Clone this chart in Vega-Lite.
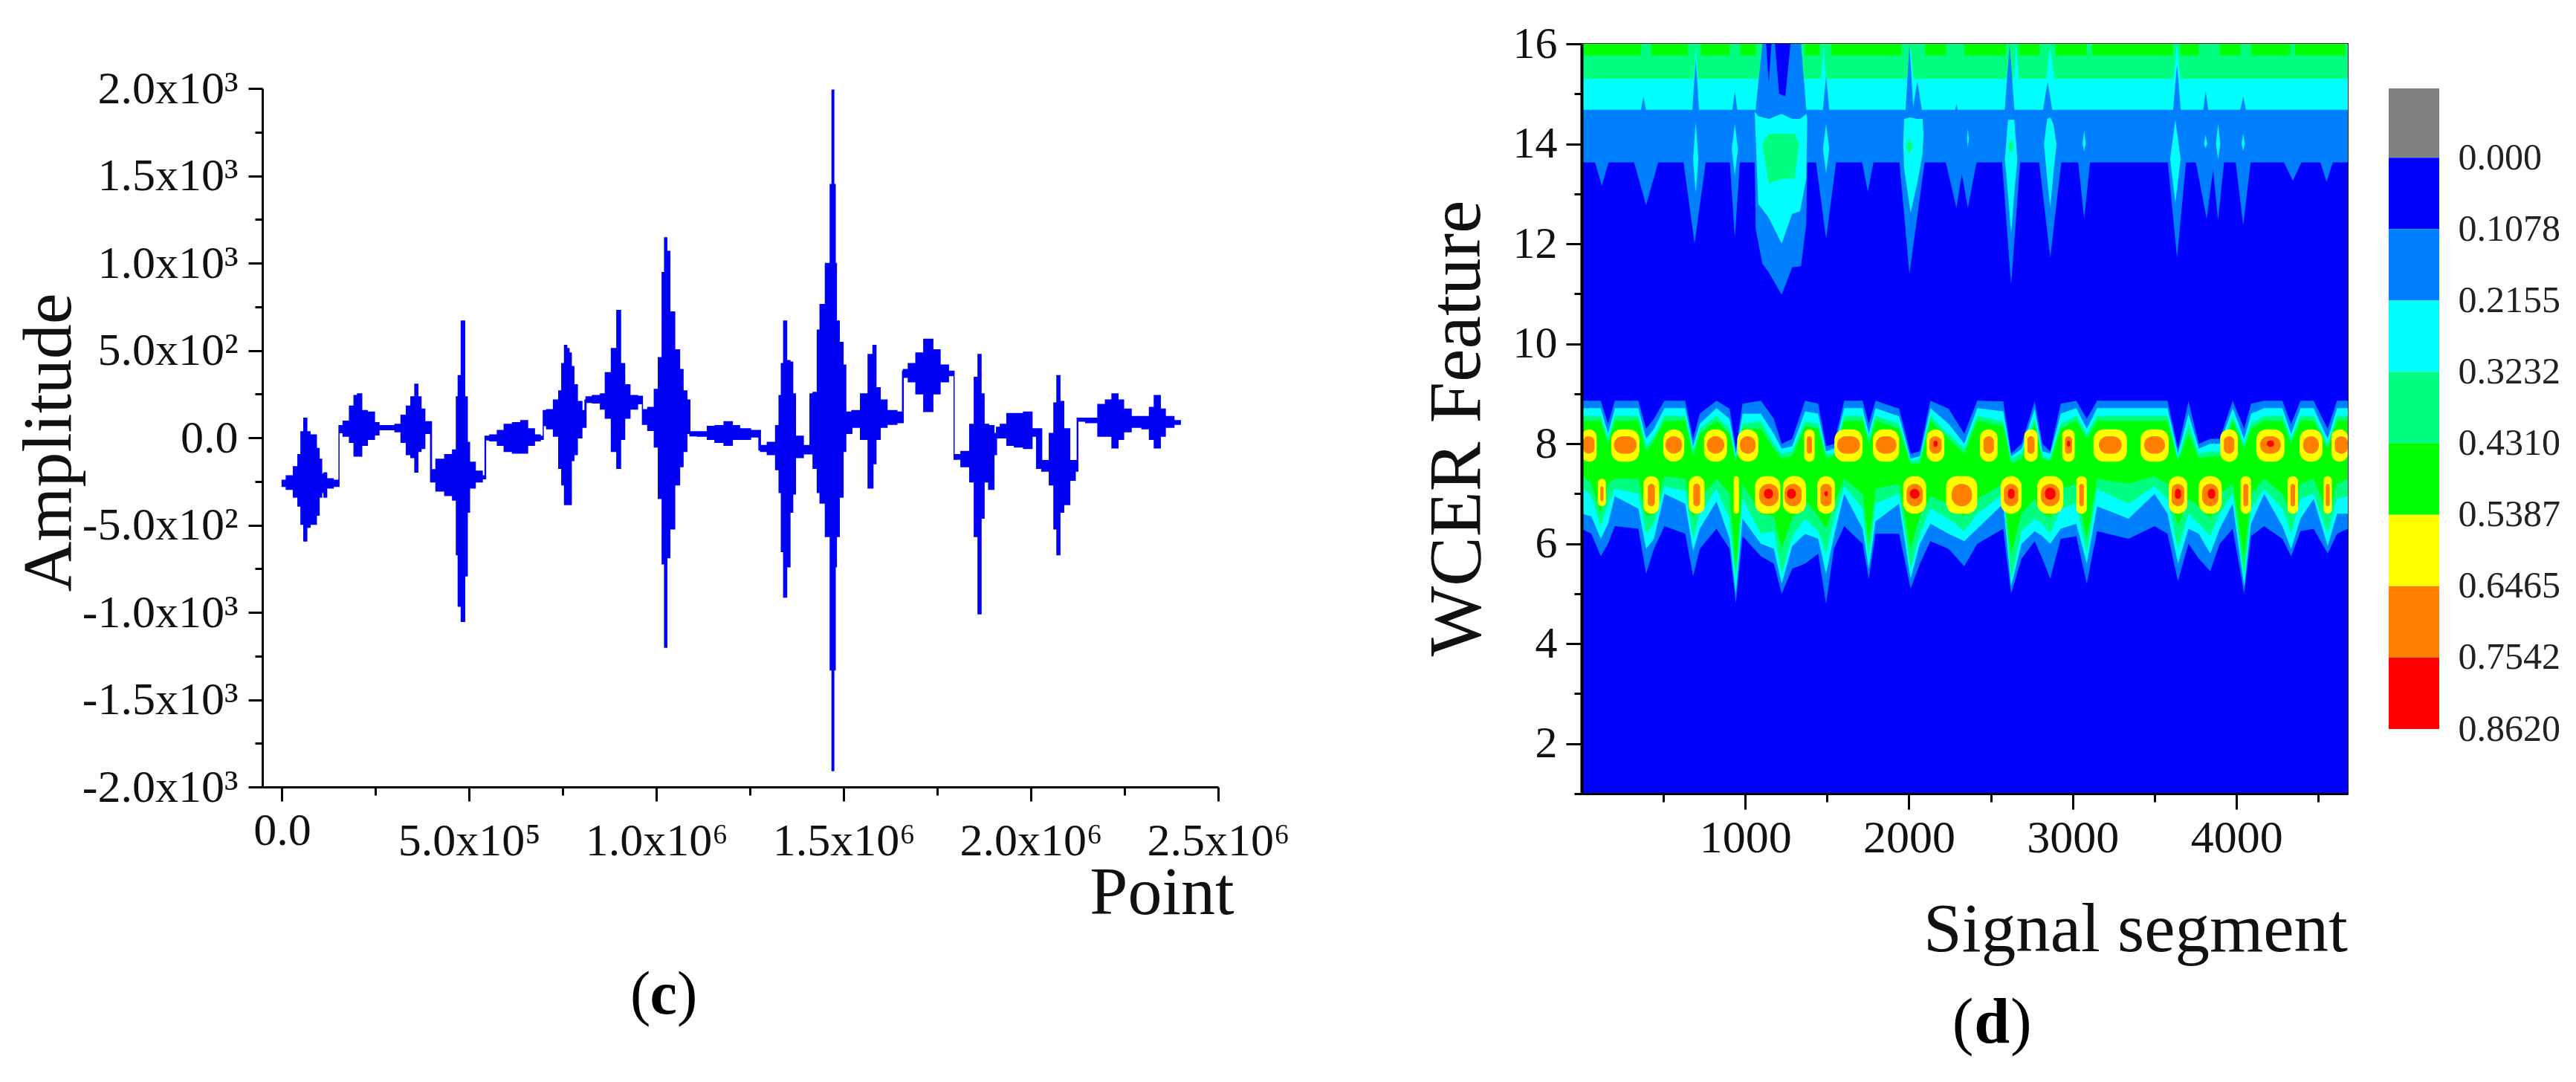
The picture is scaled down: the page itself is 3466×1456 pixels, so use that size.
{"$schema":"https://vega.github.io/schema/vega-lite/v6.json","autosize":"none","background":"white","padding":{"left":353,"top":59,"right":3113,"bottom":1397},"config":{"view":{"stroke":null},"font":"Liberation Serif","axis":{"grid":false,"labelLimit":0,"labelFont":"Liberation Serif","titleFont":"Liberation Serif","titleFontWeight":"normal","labelColor":"#111","titleColor":"#111","tickColor":"#000","domainColor":"#000","labelOverlap":false,"labelBound":false,"labelFlush":false}},
"datasets":{
"sig":[{"x":180,"hi":-244,"lo":-279},{"x":22050,"hi":-218,"lo":-296},{"x":38250,"hi":-166,"lo":-340},{"x":46350,"hi":-97,"lo":-392},{"x":54450,"hi":34,"lo":-496},{"x":61740,"hi":112,"lo":-592},{"x":70650,"hi":34,"lo":-513},{"x":78750,"hi":16,"lo":-496},{"x":88470,"hi":16,"lo":-496},{"x":94950,"hi":-62,"lo":-444},{"x":103050,"hi":-123,"lo":-340},{"x":108720,"hi":-209,"lo":-314},{"x":115200,"hi":-201,"lo":-340},{"x":123300,"hi":-235,"lo":-288},{"x":150030,"hi":-244,"lo":-279},{"x":154100,"hi":69,"lo":29},{"x":171900,"hi":95,"lo":8},{"x":188100,"hi":181,"lo":-27},{"x":196200,"hi":242,"lo":-105},{"x":206730,"hi":251,"lo":-105},{"x":218880,"hi":155,"lo":-44},{"x":236700,"hi":147,"lo":-10},{"x":256950,"hi":86,"lo":16},{"x":261000,"hi":69,"lo":46},{"x":293400,"hi":69,"lo":46},{"x":309600,"hi":77,"lo":34},{"x":325800,"hi":129,"lo":-27},{"x":337950,"hi":181,"lo":-97},{"x":350100,"hi":234,"lo":-114},{"x":359010,"hi":306,"lo":-197},{"x":366300,"hi":234,"lo":-79},{"x":376020,"hi":164,"lo":-62},{"x":386550,"hi":91,"lo":25},{"x":395460,"hi":91,"lo":25},{"x":397890,"hi":91,"lo":-253},{"x":400320,"hi":-183,"lo":-253},{"x":421380,"hi":-123,"lo":-305},{"x":447300,"hi":-97,"lo":-331},{"x":463500,"hi":-70,"lo":-357},{"x":467550,"hi":234,"lo":-670},{"x":473220,"hi":355,"lo":-965},{"x":483750,"hi":668,"lo":-1052},{"x":491850,"hi":234,"lo":-791},{"x":497520,"hi":-27,"lo":-427},{"x":504000,"hi":-140,"lo":-288},{"x":528300,"hi":-192,"lo":-253},{"x":541260,"hi":-218,"lo":-235},{"x":542880,"hi":8,"lo":-235},{"x":544500,"hi":8,"lo":-13},{"x":564750,"hi":16,"lo":-18},{"x":585000,"hi":42,"lo":-44},{"x":601200,"hi":77,"lo":-79},{"x":629550,"hi":86,"lo":-88},{"x":645750,"hi":98,"lo":-88},{"x":666000,"hi":51,"lo":-44},{"x":682200,"hi":16,"lo":-18},{"x":696780,"hi":8,"lo":-10},{"x":698400,"hi":155,"lo":69},{"x":714600,"hi":161,"lo":51},{"x":734850,"hi":216,"lo":8},{"x":742950,"hi":268,"lo":-175},{"x":751050,"hi":425,"lo":-270},{"x":757530,"hi":529,"lo":-383},{"x":763200,"hi":511,"lo":-383},{"x":769680,"hi":485,"lo":-383},{"x":775350,"hi":407,"lo":-131},{"x":783450,"hi":303,"lo":-97},{"x":793980,"hi":207,"lo":-1},{"x":807750,"hi":155,"lo":60},{"x":810180,"hi":216,"lo":60},{"x":813420,"hi":234,"lo":202},{"x":844200,"hi":242,"lo":199},{"x":856350,"hi":251,"lo":164},{"x":870120,"hi":372,"lo":112},{"x":888750,"hi":511,"lo":-79},{"x":899280,"hi":729,"lo":-175},{"x":909000,"hi":425,"lo":-10},{"x":921150,"hi":303,"lo":112},{"x":937350,"hi":242,"lo":164},{"x":961650,"hi":237,"lo":195},{"x":963270,"hi":161,"lo":77},{"x":990000,"hi":173,"lo":42},{"x":998100,"hi":277,"lo":-53},{"x":1011870,"hi":459,"lo":-348},{"x":1018350,"hi":946,"lo":-722},{"x":1024830,"hi":1145,"lo":-1200},{"x":1030500,"hi":1067,"lo":-687},{"x":1041030,"hi":720,"lo":-522},{"x":1056420,"hi":503,"lo":-270},{"x":1066950,"hi":390,"lo":-166},{"x":1075050,"hi":268,"lo":-79},{"x":1087200,"hi":216,"lo":25},{"x":1091250,"hi":34,"lo":11},{"x":1127700,"hi":34,"lo":8},{"x":1143900,"hi":65,"lo":-10},{"x":1168200,"hi":69,"lo":-27},{"x":1192500,"hi":91,"lo":-44},{"x":1212750,"hi":69,"lo":-10},{"x":1231000,"hi":51,"lo":-10},{"x":1271500,"hi":42,"lo":4},{"x":1275550,"hi":42,"lo":-70},{"x":1279600,"hi":-45,"lo":-79},{"x":1312000,"hi":-27,"lo":-97},{"x":1324150,"hi":69,"lo":-183},{"x":1330630,"hi":242,"lo":-314},{"x":1336300,"hi":425,"lo":-652},{"x":1342780,"hi":668,"lo":-913},{"x":1352500,"hi":442,"lo":-739},{"x":1360600,"hi":433,"lo":-427},{"x":1367080,"hi":251,"lo":-322},{"x":1375180,"hi":8,"lo":-114},{"x":1409200,"hi":-45,"lo":-93},{"x":1410820,"hi":251,"lo":-93},{"x":1425400,"hi":260,"lo":-175},{"x":1433500,"hi":616,"lo":-314},{"x":1440000,"hi":763,"lo":-374},{"x":1461850,"hi":998,"lo":-566},{"x":1465900,"hi":1450,"lo":-1330},{"x":1471570,"hi":1990,"lo":-1906},{"x":1475620,"hi":1450,"lo":-1330},{"x":1479000,"hi":998,"lo":-739},{"x":1482100,"hi":668,"lo":-566},{"x":1494250,"hi":546,"lo":-340},{"x":1502350,"hi":416,"lo":-79},{"x":1508830,"hi":147,"lo":25},{"x":1534750,"hi":155,"lo":60},{"x":1555000,"hi":251,"lo":-10},{"x":1575250,"hi":477,"lo":-288},{"x":1580920,"hi":529,"lo":-149},{"x":1591450,"hi":286,"lo":-10},{"x":1603600,"hi":216,"lo":60},{"x":1627900,"hi":155,"lo":77},{"x":1656250,"hi":147,"lo":86},{"x":1657870,"hi":381,"lo":86},{"x":1660300,"hi":390,"lo":346},{"x":1684600,"hi":425,"lo":320},{"x":1700800,"hi":485,"lo":251},{"x":1726720,"hi":564,"lo":150},{"x":1749400,"hi":503,"lo":251},{"x":1765600,"hi":416,"lo":320},{"x":1793950,"hi":381,"lo":355},{"x":1795570,"hi":-97,"lo":-123},{"x":1830400,"hi":-79,"lo":-166},{"x":1842550,"hi":77,"lo":-253},{"x":1854700,"hi":346,"lo":-566},{"x":1862800,"hi":477,"lo":-1008},{"x":1870900,"hi":251,"lo":-461},{"x":1879000,"hi":77,"lo":-253},{"x":1895200,"hi":69,"lo":-296},{"x":1907350,"hi":25,"lo":-97},{"x":1908970,"hi":60,"lo":-1},{"x":1927600,"hi":77,"lo":-1},{"x":1943800,"hi":138,"lo":-44},{"x":1968100,"hi":138,"lo":-53},{"x":1992400,"hi":147,"lo":-62},{"x":2013460,"hi":51,"lo":8},{"x":2016700,"hi":51,"lo":-175},{"x":2041000,"hi":-131,"lo":-192},{"x":2057200,"hi":25,"lo":-270},{"x":2065300,"hi":199,"lo":-522},{"x":2073400,"hi":355,"lo":-670},{"x":2081500,"hi":207,"lo":-427},{"x":2093650,"hi":51,"lo":-383},{"x":2113900,"hi":-131,"lo":-244},{"x":2122810,"hi":-131,"lo":-192},{"x":2124430,"hi":112,"lo":-192},{"x":2126050,"hi":112,"lo":95},{"x":2166550,"hi":112,"lo":86},{"x":2190850,"hi":190,"lo":8},{"x":2207050,"hi":216,"lo":8},{"x":2225680,"hi":251,"lo":-58},{"x":2239450,"hi":216,"lo":-10},{"x":2255650,"hi":164,"lo":34},{"x":2279950,"hi":121,"lo":60},{"x":2312350,"hi":121,"lo":51},{"x":2320450,"hi":173,"lo":-10},{"x":2338270,"hi":242,"lo":-58},{"x":2352850,"hi":164,"lo":8},{"x":2365000,"hi":121,"lo":60},{"x":2399020,"hi":98,"lo":77}],
"cells":[{"a":1,"z":4680,"y":1,"v":16,"b":"0.000"},{"a":1,"z":4680,"y":13.63,"v":16,"b":"0.1078"},{"a":1,"z":4680,"y":14.68,"v":16,"b":"0.2155"},{"a":1,"z":4680,"y":15.3,"v":16,"b":"0.3232"},{"a":13,"z":364,"y":15.77,"v":16,"b":"0.4310"},{"a":427,"z":650,"y":15.77,"v":16,"b":"0.4310"},{"a":730,"z":905,"y":15.77,"v":16,"b":"0.4310"},{"a":969,"z":1064,"y":15.77,"v":16,"b":"0.4310"},{"a":1366,"z":1456,"y":15.77,"v":16,"b":"0.4310"},{"a":1526,"z":1956,"y":15.77,"v":16,"b":"0.4310"},{"a":2099,"z":2226,"y":15.77,"v":16,"b":"0.4310"},{"a":2338,"z":2592,"y":15.77,"v":16,"b":"0.4310"},{"a":2672,"z":2799,"y":15.77,"v":16,"b":"0.4310"},{"a":2895,"z":3086,"y":15.77,"v":16,"b":"0.4310"},{"a":3118,"z":3611,"y":15.77,"v":16,"b":"0.4310"},{"a":3659,"z":3770,"y":15.77,"v":16,"b":"0.4310"},{"a":3898,"z":4025,"y":15.77,"v":16,"b":"0.4310"},{"a":4089,"z":4328,"y":15.77,"v":16,"b":"0.4310"},{"a":4359,"z":4662,"y":15.77,"v":16,"b":"0.4310"}],
"spikes":[
{"g":"a1","b":"0.1078","x":77,"y":13.7,"v":13.7},{"g":"a1","b":"0.1078","x":125,"y":13.7,"v":13.16},{"g":"a1","b":"0.1078","x":172,"y":13.7,"v":13.7},
{"g":"a2","b":"0.1078","x":316,"y":13.7,"v":13.7},{"g":"a2","b":"0.1078","x":395,"y":13.7,"v":12.77},{"g":"a2","b":"0.1078","x":475,"y":13.7,"v":13.7},
{"g":"a3","b":"0.1078","x":621,"y":13.7,"v":13.7},{"g":"a3","b":"0.1078","x":691,"y":13.7,"v":12.0},{"g":"a3","b":"0.1078","x":762,"y":13.7,"v":13.7},
{"g":"a4","b":"0.1078","x":905,"y":13.7,"v":13.7},{"g":"a4","b":"0.1078","x":937,"y":13.7,"v":12.12},{"g":"a4","b":"0.1078","x":969,"y":13.7,"v":13.7},
{"g":"a5","b":"0.1078","x":1430,"y":13.7,"v":13.7},{"g":"a5","b":"0.1078","x":1494,"y":13.7,"v":12.1},{"g":"a5","b":"0.1078","x":1558,"y":13.7,"v":13.7},
{"g":"a6","b":"0.1078","x":1710,"y":13.7,"v":13.7},{"g":"a6","b":"0.1078","x":1749,"y":13.7,"v":13.04},{"g":"a6","b":"0.1078","x":1787,"y":13.7,"v":13.7},
{"g":"a7","b":"0.1078","x":1940,"y":13.7,"v":13.7},{"g":"a7","b":"0.1078","x":2003,"y":13.7,"v":11.4},{"g":"a7","b":"0.1078","x":2099,"y":13.7,"v":13.7},
{"g":"a8","b":"0.1078","x":2220,"y":13.7,"v":13.7},{"g":"a8","b":"0.1078","x":2290,"y":13.7,"v":12.72},{"g":"a8","b":"0.1078","x":2338,"y":13.7,"v":13.7},
{"g":"a9","b":"0.1078","x":2306,"y":13.7,"v":13.7},{"g":"a9","b":"0.1078","x":2360,"y":13.7,"v":12.72},{"g":"a9","b":"0.1078","x":2417,"y":13.7,"v":13.7},
{"g":"a10","b":"0.1078","x":2567,"y":13.7,"v":13.7},{"g":"a10","b":"0.1078","x":2624,"y":13.7,"v":11.18},{"g":"a10","b":"0.1078","x":2681,"y":13.7,"v":13.7},
{"g":"a11","b":"0.1078","x":2793,"y":13.7,"v":13.7},{"g":"a11","b":"0.1078","x":2863,"y":13.7,"v":11.72},{"g":"a11","b":"0.1078","x":2933,"y":13.7,"v":13.7},
{"g":"a12","b":"0.1078","x":3032,"y":13.7,"v":13.7},{"g":"a12","b":"0.1078","x":3070,"y":13.7,"v":12.5},{"g":"a12","b":"0.1078","x":3108,"y":13.7,"v":13.7},
{"g":"a13","b":"0.1078","x":3579,"y":13.7,"v":13.7},{"g":"a13","b":"0.1078","x":3637,"y":13.7,"v":11.72},{"g":"a13","b":"0.1078","x":3694,"y":13.7,"v":13.7},
{"g":"a14","b":"0.1078","x":3748,"y":13.7,"v":13.7},{"g":"a14","b":"0.1078","x":3818,"y":13.7,"v":12.5},{"g":"a14","b":"0.1078","x":3866,"y":13.7,"v":13.7},
{"g":"a15","b":"0.1078","x":3850,"y":13.7,"v":13.7},{"g":"a15","b":"0.1078","x":3888,"y":13.7,"v":12.47},{"g":"a15","b":"0.1078","x":3926,"y":13.7,"v":13.7},
{"g":"a16","b":"0.1078","x":3993,"y":13.7,"v":13.7},{"g":"a16","b":"0.1078","x":4041,"y":13.7,"v":12.37},{"g":"a16","b":"0.1078","x":4089,"y":13.7,"v":13.7},
{"g":"a17","b":"0.1078","x":4280,"y":13.7,"v":13.7},{"g":"a17","b":"0.1078","x":4344,"y":13.7,"v":13.26},{"g":"a17","b":"0.1078","x":4407,"y":13.7,"v":13.7},
{"g":"a18","b":"0.1078","x":4506,"y":13.7,"v":13.7},{"g":"a18","b":"0.1078","x":4550,"y":13.7,"v":13.24},{"g":"a18","b":"0.1078","x":4595,"y":13.7,"v":13.7},
{"g":"c1","b":"0.2155","x":685,"y":15.25,"v":15.25},{"g":"c1","b":"0.2155","x":698,"y":15.25,"v":15.94},{"g":"c1","b":"0.2155","x":711,"y":15.25,"v":15.25},
{"g":"c2","b":"0.2155","x":1462,"y":15.25,"v":15.25},{"g":"c2","b":"0.2155","x":1478,"y":15.25,"v":15.94},{"g":"c2","b":"0.2155","x":1494,"y":15.25,"v":15.25},
{"g":"c3","b":"0.2155","x":1991,"y":15.25,"v":15.25},{"g":"c3","b":"0.2155","x":2010,"y":15.25,"v":15.94},{"g":"c3","b":"0.2155","x":2029,"y":15.25,"v":15.25},
{"g":"c4","b":"0.2155","x":2838,"y":15.25,"v":15.25},{"g":"c4","b":"0.2155","x":2863,"y":15.25,"v":16},{"g":"c4","b":"0.2155","x":2888,"y":15.25,"v":15.25},
{"g":"c5","b":"0.2155","x":3614,"y":15.25,"v":15.25},{"g":"c5","b":"0.2155","x":3637,"y":15.25,"v":16},{"g":"c5","b":"0.2155","x":3659,"y":15.25,"v":15.25},
{"g":"u1","b":"0.1078","x":360,"y":14.6,"v":14.6},{"g":"u1","b":"0.1078","x":379,"y":14.6,"v":14.95},{"g":"u1","b":"0.1078","x":399,"y":14.6,"v":14.6},
{"g":"u2","b":"0.1078","x":676,"y":14.6,"v":14.6},{"g":"u2","b":"0.1078","x":698,"y":14.6,"v":15.69},{"g":"u2","b":"0.1078","x":720,"y":14.6,"v":14.6},
{"g":"u3","b":"0.1078","x":918,"y":14.6,"v":14.6},{"g":"u3","b":"0.1078","x":937,"y":14.6,"v":15.05},{"g":"u3","b":"0.1078","x":956,"y":14.6,"v":14.6},
{"g":"u4","b":"0.1078","x":1472,"y":14.6,"v":14.6},{"g":"u4","b":"0.1078","x":1494,"y":14.6,"v":15.35},{"g":"u4","b":"0.1078","x":1516,"y":14.6,"v":14.6},
{"g":"u5","b":"0.1078","x":1978,"y":14.6,"v":14.6},{"g":"u5","b":"0.1078","x":2003,"y":14.6,"v":16},{"g":"u5","b":"0.1078","x":2029,"y":14.6,"v":14.6},
{"g":"u6","b":"0.1078","x":2019,"y":14.6,"v":14.6},{"g":"u6","b":"0.1078","x":2051,"y":14.6,"v":15.25},{"g":"u6","b":"0.1078","x":2083,"y":14.6,"v":14.6},
{"g":"u7","b":"0.1078","x":2277,"y":14.6,"v":14.6},{"g":"u7","b":"0.1078","x":2290,"y":14.6,"v":14.8},{"g":"u7","b":"0.1078","x":2303,"y":14.6,"v":14.6},
{"g":"u8","b":"0.1078","x":2583,"y":14.6,"v":14.6},{"g":"u8","b":"0.1078","x":2615,"y":14.6,"v":16},{"g":"u8","b":"0.1078","x":2646,"y":14.6,"v":14.6},
{"g":"u9","b":"0.1078","x":2815,"y":14.6,"v":14.6},{"g":"u9","b":"0.1078","x":2847,"y":14.6,"v":15.25},{"g":"u9","b":"0.1078","x":2879,"y":14.6,"v":14.6},
{"g":"u10","b":"0.1078","x":3611,"y":14.6,"v":14.6},{"g":"u10","b":"0.1078","x":3637,"y":14.6,"v":15.59},{"g":"u10","b":"0.1078","x":3662,"y":14.6,"v":14.6},
{"g":"u11","b":"0.1078","x":3793,"y":14.6,"v":14.6},{"g":"u11","b":"0.1078","x":3812,"y":14.6,"v":15.05},{"g":"u11","b":"0.1078","x":3831,"y":14.6,"v":14.6},
{"g":"u12","b":"0.1078","x":4019,"y":14.6,"v":14.6},{"g":"u12","b":"0.1078","x":4041,"y":14.6,"v":14.95},{"g":"u12","b":"0.1078","x":4063,"y":14.6,"v":14.6},
{"g":"c6","b":"0.2155","x":2640,"y":15.25,"v":15.25},{"g":"c6","b":"0.2155","x":2656,"y":15.25,"v":16},{"g":"c6","b":"0.2155","x":2672,"y":15.25,"v":15.25},
{"g":"big","b":"0.1078","x":1058,"y":13.7,"v":13.7},{"g":"big","b":"0.1078","x":1064,"y":14.7,"v":12.3},{"g":"big","b":"0.1078","x":1105,"y":16,"v":11.6},{"g":"big","b":"0.1078","x":1144,"y":16,"v":11.43},{"g":"big","b":"0.1078","x":1223,"y":16,"v":10.98},{"g":"big","b":"0.1078","x":1287,"y":16,"v":11.53},{"g":"big","b":"0.1078","x":1341,"y":16,"v":11.55},{"g":"big","b":"0.1078","x":1373,"y":14.7,"v":12.4},{"g":"big","b":"0.1078","x":1379,"y":13.7,"v":13.7},
{"g":"bl1","b":"0.000","x":1182,"y":16,"v":16},{"g":"bl1","b":"0.000","x":1207,"y":16,"v":15},{"g":"bl1","b":"0.000","x":1245,"y":16,"v":14.95},{"g":"bl1","b":"0.000","x":1277,"y":16,"v":16},
{"g":"bl2","b":"0.000","x":1128,"y":16,"v":16},{"g":"bl2","b":"0.000","x":1144,"y":16,"v":15.2},{"g":"bl2","b":"0.000","x":1160,"y":16,"v":16},
{"g":"bc","b":"0.2155","x":1058,"y":14.65,"v":14.65},{"g":"bc","b":"0.2155","x":1080,"y":14.55,"v":12.8},{"g":"bc","b":"0.2155","x":1144,"y":14.5,"v":12.52},{"g":"bc","b":"0.2155","x":1223,"y":14.6,"v":12.0},{"g":"bc","b":"0.2155","x":1287,"y":14.5,"v":12.6},{"g":"bc","b":"0.2155","x":1335,"y":14.5,"v":12.65},{"g":"bc","b":"0.2155","x":1373,"y":14.6,"v":13.3},{"g":"bc","b":"0.2155","x":1379,"y":14.5,"v":14.5},
{"g":"bs","b":"0.3232","x":1105,"y":14,"v":14},{"g":"bs","b":"0.3232","x":1144,"y":14.2,"v":13.2},{"g":"bs","b":"0.3232","x":1223,"y":14.2,"v":13.3},{"g":"bs","b":"0.3232","x":1303,"y":14.2,"v":13.3},{"g":"bs","b":"0.3232","x":1328,"y":14,"v":14},
{"g":"d1","b":"0.2155","x":682,"y":13.7,"v":13.7},{"g":"d1","b":"0.2155","x":698,"y":14.45,"v":13.01},{"g":"d1","b":"0.2155","x":714,"y":13.7,"v":13.7},
{"g":"d2","b":"0.2155","x":918,"y":13.9,"v":13.9},{"g":"d2","b":"0.2155","x":937,"y":14.4,"v":13.36},{"g":"d2","b":"0.2155","x":956,"y":13.9,"v":13.9},
{"g":"d3","b":"0.2155","x":1475,"y":13.9,"v":13.9},{"g":"d3","b":"0.2155","x":1494,"y":14.4,"v":13.41},{"g":"d3","b":"0.2155","x":1513,"y":13.9,"v":13.9},
{"g":"d4","b":"0.2155","x":1965,"y":14,"v":14},{"g":"d4","b":"0.2155","x":1971,"y":14.5,"v":13.5},{"g":"d4","b":"0.2155","x":2010,"y":14.53,"v":12.62},{"g":"d4","b":"0.2155","x":2050,"y":14.5,"v":13.2},{"g":"d4","b":"0.2155","x":2083,"y":14.5,"v":13.8},{"g":"d4","b":"0.2155","x":2089,"y":14.2,"v":14.2},
{"g":"d5","b":"0.2155","x":2354,"y":14.1,"v":14.1},{"g":"d5","b":"0.2155","x":2360,"y":14.3,"v":13.91},{"g":"d5","b":"0.2155","x":2366,"y":14.1,"v":14.1},
{"g":"d6","b":"0.2155","x":2586,"y":13.7,"v":13.7},{"g":"d6","b":"0.2155","x":2605,"y":14.48,"v":13.0},{"g":"d6","b":"0.2155","x":2624,"y":14.48,"v":12.2},{"g":"d6","b":"0.2155","x":2643,"y":14.48,"v":13.0},{"g":"d6","b":"0.2155","x":2662,"y":13.7,"v":13.7},
{"g":"d7","b":"0.2155","x":2825,"y":14,"v":14},{"g":"d7","b":"0.2155","x":2844,"y":14.5,"v":13.3},{"g":"d7","b":"0.2155","x":2863,"y":14.53,"v":12.72},{"g":"d7","b":"0.2155","x":2882,"y":14.4,"v":13.4},{"g":"d7","b":"0.2155","x":2901,"y":14,"v":14},
{"g":"d8","b":"0.2155","x":3060,"y":14,"v":14},{"g":"d8","b":"0.2155","x":3070,"y":14.25,"v":13.86},{"g":"d8","b":"0.2155","x":3080,"y":14,"v":14},
{"g":"d9","b":"0.2155","x":3595,"y":13.7,"v":13.7},{"g":"d9","b":"0.2155","x":3627,"y":14.48,"v":12.82},{"g":"d9","b":"0.2155","x":3659,"y":13.7,"v":13.7},
{"g":"d10","b":"0.2155","x":3802,"y":14,"v":14},{"g":"d10","b":"0.2155","x":3812,"y":14.18,"v":13.91},{"g":"d10","b":"0.2155","x":3821,"y":14,"v":14},
{"g":"d11","b":"0.2155","x":3875,"y":14,"v":14},{"g":"d11","b":"0.2155","x":3888,"y":14.4,"v":13.68},{"g":"d11","b":"0.2155","x":3901,"y":14,"v":14},
{"g":"d12","b":"0.2155","x":4031,"y":14,"v":14},{"g":"d12","b":"0.2155","x":4041,"y":14.2,"v":13.86},{"g":"d12","b":"0.2155","x":4051,"y":14,"v":14},
{"g":"s1","b":"0.3232","x":1981,"y":13.95,"v":13.95},{"g":"s1","b":"0.3232","x":2003,"y":14.1,"v":13.8},{"g":"s1","b":"0.3232","x":2026,"y":13.95,"v":13.95},
{"g":"s2","b":"0.3232","x":2608,"y":13.95,"v":13.95},{"g":"s2","b":"0.3232","x":2624,"y":14.1,"v":13.8},{"g":"s2","b":"0.3232","x":2640,"y":13.95,"v":13.95}],
"mid":[
{"x":1,"At":8.86,"Bt":8.71,"Ct":8.56,"Dt":8.46,"Db":7.39,"Cb":7.15,"Bb":6.6,"Ab":6.3},
{"x":61,"At":8.86,"Bt":8.71,"Ct":8.56,"Dt":8.46,"Db":7.2,"Cb":6.95,"Bb":6.55,"Ab":6.2},
{"x":118,"At":8.86,"Bt":8.71,"Ct":8.56,"Dt":8.46,"Db":6.6,"Cb":6.35,"Bb":6.1,"Ab":5.75},
{"x":163,"At":8.4,"Bt":8.2,"Ct":8.1,"Dt":8.0,"Db":7.2,"Cb":6.8,"Bb":6.4,"Ab":6.0},
{"x":204,"At":8.86,"Bt":8.71,"Ct":8.56,"Dt":8.46,"Db":7.3,"Cb":7.1,"Bb":6.95,"Ab":6.35},
{"x":348,"At":8.86,"Bt":8.71,"Ct":8.56,"Dt":8.46,"Db":7.3,"Cb":7.0,"Bb":6.7,"Ab":6.3},
{"x":395,"At":8.3,"Bt":8.1,"Ct":7.95,"Dt":7.85,"Db":6.55,"Cb":6.2,"Bb":5.9,"Ab":5.4},
{"x":443,"At":8.5,"Bt":8.3,"Ct":8.15,"Dt":8.05,"Db":6.6,"Cb":6.4,"Bb":6.1,"Ab":5.9},
{"x":507,"At":8.86,"Bt":8.71,"Ct":8.56,"Dt":8.46,"Db":7.35,"Cb":7.15,"Bb":7.0,"Ab":6.35},
{"x":634,"At":8.86,"Bt":8.71,"Ct":8.56,"Dt":8.46,"Db":7.3,"Cb":7.05,"Bb":6.8,"Ab":6.2},
{"x":682,"At":8.1,"Bt":7.95,"Ct":7.85,"Dt":7.75,"Db":6.5,"Cb":6.1,"Bb":5.85,"Ab":5.35},
{"x":723,"At":8.6,"Bt":8.4,"Ct":8.3,"Dt":8.2,"Db":6.9,"Cb":6.6,"Bb":6.3,"Ab":5.9},
{"x":825,"At":8.86,"Bt":8.71,"Ct":8.56,"Dt":8.46,"Db":7.3,"Cb":7.1,"Bb":6.85,"Ab":6.3},
{"x":905,"At":8.7,"Bt":8.5,"Ct":8.3,"Dt":8.2,"Db":7.0,"Cb":6.5,"Bb":6.1,"Ab":5.9},
{"x":943,"At":7.9,"Bt":7.8,"Ct":7.7,"Dt":7.65,"Db":5.5,"Cb":5.2,"Bb":5.0,"Ab":4.81},
{"x":984,"At":8.8,"Bt":8.6,"Ct":8.4,"Dt":8.3,"Db":7.2,"Cb":6.9,"Bb":6.5,"Ab":6.15},
{"x":1096,"At":8.86,"Bt":8.6,"Ct":8.45,"Dt":8.3,"Db":6.6,"Cb":6.2,"Bb":6.0,"Ab":5.75},
{"x":1175,"At":8.5,"Bt":8.2,"Ct":8.0,"Dt":7.9,"Db":6.55,"Cb":6.25,"Bb":5.9,"Ab":5.6},
{"x":1223,"At":8.0,"Bt":7.9,"Ct":7.8,"Dt":7.7,"Db":5.9,"Cb":5.4,"Bb":5.2,"Ab":5.0},
{"x":1287,"At":8.1,"Bt":7.95,"Ct":7.85,"Dt":7.75,"Db":6.5,"Cb":6.15,"Bb":5.95,"Ab":5.5},
{"x":1366,"At":8.86,"Bt":8.65,"Ct":8.45,"Dt":8.35,"Db":6.9,"Cb":6.5,"Bb":6.2,"Ab":5.6},
{"x":1446,"At":8.8,"Bt":8.6,"Ct":8.4,"Dt":8.3,"Db":6.55,"Cb":6.25,"Bb":6.1,"Ab":5.8},
{"x":1494,"At":7.95,"Bt":7.85,"Ct":7.8,"Dt":7.7,"Db":6.3,"Cb":5.8,"Bb":5.4,"Ab":4.8},
{"x":1542,"At":8.0,"Bt":7.9,"Ct":7.8,"Dt":7.75,"Db":6.8,"Cb":6.5,"Bb":6.15,"Ab":5.9},
{"x":1605,"At":8.86,"Bt":8.71,"Ct":8.56,"Dt":8.46,"Db":7.3,"Cb":7.15,"Bb":7.0,"Ab":6.35},
{"x":1717,"At":8.86,"Bt":8.71,"Ct":8.56,"Dt":8.46,"Db":7.0,"Cb":6.7,"Bb":6.3,"Ab":6.0},
{"x":1755,"At":8.4,"Bt":8.2,"Ct":8.1,"Dt":8.0,"Db":6.0,"Cb":5.7,"Bb":5.5,"Ab":5.3},
{"x":1796,"At":8.86,"Bt":8.71,"Ct":8.56,"Dt":8.46,"Db":7.1,"Cb":6.8,"Bb":6.45,"Ab":6.2},
{"x":1940,"At":8.7,"Bt":8.55,"Ct":8.4,"Dt":8.3,"Db":7.2,"Cb":7.0,"Bb":6.8,"Ab":6.2},
{"x":2010,"At":7.8,"Bt":7.7,"Ct":7.65,"Dt":7.6,"Db":5.9,"Cb":5.5,"Bb":5.3,"Ab":5.1},
{"x":2067,"At":7.85,"Bt":7.75,"Ct":7.7,"Dt":7.6,"Db":6.55,"Cb":6.2,"Bb":6.0,"Ab":5.6},
{"x":2131,"At":8.86,"Bt":8.71,"Ct":8.56,"Dt":8.46,"Db":6.95,"Cb":6.7,"Bb":6.4,"Ab":6.05},
{"x":2242,"At":8.7,"Bt":8.4,"Ct":8.2,"Dt":8.1,"Db":6.8,"Cb":6.5,"Bb":6.2,"Ab":5.9},
{"x":2338,"At":8.2,"Bt":8.0,"Ct":7.9,"Dt":7.8,"Db":6.55,"Cb":6.25,"Bb":6.05,"Ab":5.55},
{"x":2417,"At":8.86,"Bt":8.71,"Ct":8.56,"Dt":8.46,"Db":6.9,"Cb":6.6,"Bb":6.3,"Ab":6.0},
{"x":2576,"At":8.85,"Bt":8.65,"Ct":8.45,"Dt":8.35,"Db":7.2,"Cb":7.0,"Bb":6.8,"Ab":6.3},
{"x":2624,"At":7.8,"Bt":7.75,"Ct":7.7,"Dt":7.6,"Db":5.8,"Cb":5.3,"Bb":5.15,"Ab":5.0},
{"x":2688,"At":8.0,"Bt":7.9,"Ct":7.8,"Dt":7.7,"Db":6.6,"Cb":6.25,"Bb":6.0,"Ab":5.7},
{"x":2768,"At":8.85,"Bt":8.7,"Ct":8.5,"Dt":8.4,"Db":6.9,"Cb":6.5,"Bb":6.25,"Ab":6.05},
{"x":2815,"At":8.0,"Bt":7.85,"Ct":7.75,"Dt":7.7,"Db":6.65,"Cb":6.4,"Bb":6.15,"Ab":5.7},
{"x":2863,"At":7.85,"Bt":7.8,"Ct":7.7,"Dt":7.65,"Db":6.5,"Cb":6.2,"Bb":6.0,"Ab":5.3},
{"x":2927,"At":8.8,"Bt":8.6,"Ct":8.4,"Dt":8.3,"Db":7.1,"Cb":6.7,"Bb":6.3,"Ab":6.1},
{"x":3022,"At":8.86,"Bt":8.71,"Ct":8.56,"Dt":8.46,"Db":7.2,"Cb":6.8,"Bb":6.4,"Ab":6.15},
{"x":3086,"At":8.5,"Bt":8.3,"Ct":8.2,"Dt":8.1,"Db":6.1,"Cb":5.8,"Bb":5.6,"Ab":5.2},
{"x":3149,"At":8.86,"Bt":8.71,"Ct":8.56,"Dt":8.46,"Db":7.3,"Cb":7.1,"Bb":6.75,"Ab":6.25},
{"x":3341,"At":8.86,"Bt":8.71,"Ct":8.56,"Dt":8.46,"Db":7.2,"Cb":6.8,"Bb":6.5,"Ab":6.1},
{"x":3500,"At":8.86,"Bt":8.71,"Ct":8.56,"Dt":8.46,"Db":7.35,"Cb":7.15,"Bb":7.0,"Ab":6.35},
{"x":3579,"At":8.86,"Bt":8.71,"Ct":8.56,"Dt":8.46,"Db":7.2,"Cb":6.9,"Bb":6.6,"Ab":6.2},
{"x":3643,"At":7.9,"Bt":7.8,"Ct":7.7,"Dt":7.65,"Db":6.35,"Cb":5.9,"Bb":5.6,"Ab":5.25},
{"x":3707,"At":8.85,"Bt":8.6,"Ct":8.4,"Dt":8.2,"Db":6.9,"Cb":6.6,"Bb":6.3,"Ab":6.0},
{"x":3770,"At":8.0,"Bt":7.9,"Ct":7.8,"Dt":7.7,"Db":6.75,"Cb":6.4,"Bb":6.2,"Ab":5.7},
{"x":3840,"At":8.1,"Bt":8.0,"Ct":7.85,"Dt":7.75,"Db":6.5,"Cb":6.15,"Bb":5.8,"Ab":5.45},
{"x":3898,"At":8.1,"Bt":8.0,"Ct":7.85,"Dt":7.75,"Db":7.0,"Cb":6.6,"Bb":6.3,"Ab":6.0},
{"x":3977,"At":8.86,"Bt":8.71,"Ct":8.56,"Dt":8.46,"Db":7.2,"Cb":7.0,"Bb":6.8,"Ab":6.3},
{"x":4047,"At":8.3,"Bt":8.1,"Ct":8.0,"Dt":7.9,"Db":5.7,"Cb":5.3,"Bb":5.15,"Ab":5.0},
{"x":4089,"At":8.8,"Bt":8.6,"Ct":8.4,"Dt":8.3,"Db":7.0,"Cb":6.7,"Bb":6.4,"Ab":6.15},
{"x":4169,"At":8.86,"Bt":8.71,"Ct":8.56,"Dt":8.46,"Db":7.3,"Cb":7.1,"Bb":7.0,"Ab":6.35},
{"x":4280,"At":8.86,"Bt":8.71,"Ct":8.56,"Dt":8.46,"Db":7.0,"Cb":6.7,"Bb":6.35,"Ab":6.1},
{"x":4334,"At":8.4,"Bt":8.2,"Ct":8.1,"Dt":8.0,"Db":6.6,"Cb":6.2,"Bb":5.9,"Ab":5.75},
{"x":4391,"At":8.86,"Bt":8.71,"Ct":8.56,"Dt":8.46,"Db":7.2,"Cb":6.9,"Bb":6.5,"Ab":6.25},
{"x":4471,"At":8.86,"Bt":8.71,"Ct":8.56,"Dt":8.46,"Db":7.3,"Cb":7.0,"Bb":6.9,"Ab":6.3},
{"x":4557,"At":8.3,"Bt":8.1,"Ct":8.0,"Dt":7.9,"Db":6.6,"Cb":6.2,"Bb":5.95,"Ab":5.8},
{"x":4614,"At":8.86,"Bt":8.71,"Ct":8.56,"Dt":8.46,"Db":7.2,"Cb":6.9,"Bb":6.6,"Ab":6.2},
{"x":4680,"At":8.86,"Bt":8.71,"Ct":8.56,"Dt":8.46,"Db":7.3,"Cb":6.95,"Bb":6.6,"Ab":6.3}],
"blobs":[
{"a":1,"z":93,"y":7.64,"v":8.29,"b":"0.5387"},{"a":182,"z":354,"y":7.64,"v":8.29,"b":"0.5387"},{"a":500,"z":628,"y":7.64,"v":8.29,"b":"0.5387"},{"a":749,"z":889,"y":7.64,"v":8.29,"b":"0.5387"},{"a":952,"z":1080,"y":7.64,"v":8.29,"b":"0.5387"},{"a":1360,"z":1424,"y":7.64,"v":8.29,"b":"0.5387"},{"a":1545,"z":1717,"y":7.64,"v":8.29,"b":"0.5387"},{"a":1780,"z":1940,"y":7.64,"v":8.29,"b":"0.5387"},{"a":2108,"z":2216,"y":7.64,"v":8.29,"b":"0.5387"},{"a":2433,"z":2541,"y":7.64,"v":8.29,"b":"0.5387"},{"a":2704,"z":2786,"y":7.64,"v":8.29,"b":"0.5387"},{"a":2936,"z":3012,"y":7.64,"v":8.29,"b":"0.5387"},{"a":3127,"z":3331,"y":7.64,"v":8.29,"b":"0.5387"},{"a":3414,"z":3586,"y":7.64,"v":8.29,"b":"0.5387"},{"a":3901,"z":4009,"y":7.64,"v":8.29,"b":"0.5387"},{"a":4121,"z":4293,"y":7.64,"v":8.29,"b":"0.5387"},{"a":4385,"z":4525,"y":7.64,"v":8.29,"b":"0.5387"},{"a":4580,"z":4680,"y":7.64,"v":8.29,"b":"0.5387"},
{"a":10,"z":80,"y":7.8,"v":8.15,"b":"0.6465"},{"a":198,"z":338,"y":7.8,"v":8.15,"b":"0.6465"},{"a":513,"z":615,"y":7.8,"v":8.15,"b":"0.6465"},{"a":765,"z":873,"y":7.8,"v":8.15,"b":"0.6465"},{"a":968,"z":1064,"y":7.8,"v":8.15,"b":"0.6465"},{"a":1376,"z":1408,"y":7.8,"v":8.15,"b":"0.6465"},{"a":1561,"z":1701,"y":7.8,"v":8.15,"b":"0.6465"},{"a":1796,"z":1924,"y":7.8,"v":8.15,"b":"0.6465"},{"a":2124,"z":2200,"y":7.8,"v":8.15,"b":"0.6465"},{"a":2455,"z":2519,"y":7.8,"v":8.15,"b":"0.6465"},{"a":2723,"z":2767,"y":7.8,"v":8.15,"b":"0.6465"},{"a":2952,"z":2996,"y":7.8,"v":8.15,"b":"0.6465"},{"a":3159,"z":3299,"y":7.8,"v":8.15,"b":"0.6465"},{"a":3436,"z":3564,"y":7.8,"v":8.15,"b":"0.6465"},{"a":3923,"z":3987,"y":7.8,"v":8.15,"b":"0.6465"},{"a":4143,"z":4271,"y":7.8,"v":8.15,"b":"0.6465"},{"a":4407,"z":4503,"y":7.8,"v":8.15,"b":"0.6465"},{"a":4600,"z":4680,"y":7.8,"v":8.15,"b":"0.6465"},
{"a":2150,"z":2175,"y":7.94,"v":8.06,"b":"0.7542"},{"a":4185,"z":4230,"y":7.94,"v":8.06,"b":"0.7542"},{"a":2965,"z":2985,"y":7.94,"v":8.06,"b":"0.7542"},
{"a":100,"z":150,"y":6.75,"v":7.3,"b":"0.5387"},{"a":379,"z":475,"y":6.6,"v":7.35,"b":"0.5387"},{"a":656,"z":752,"y":6.6,"v":7.35,"b":"0.5387"},{"a":930,"z":962,"y":6.6,"v":7.35,"b":"0.5387"},{"a":1060,"z":1215,"y":6.6,"v":7.35,"b":"0.5387"},{"a":1230,"z":1372,"y":6.6,"v":7.35,"b":"0.5387"},{"a":1440,"z":1548,"y":6.6,"v":7.35,"b":"0.5387"},{"a":1965,"z":2105,"y":6.6,"v":7.35,"b":"0.5387"},{"a":2227,"z":2417,"y":6.6,"v":7.35,"b":"0.5387"},{"a":2560,"z":2688,"y":6.6,"v":7.35,"b":"0.5387"},{"a":2783,"z":2943,"y":6.6,"v":7.35,"b":"0.5387"},{"a":3022,"z":3086,"y":6.6,"v":7.35,"b":"0.5387"},{"a":3586,"z":3700,"y":6.6,"v":7.35,"b":"0.5387"},{"a":3770,"z":3910,"y":6.6,"v":7.35,"b":"0.5387"},{"a":4025,"z":4089,"y":6.6,"v":7.35,"b":"0.5387"},{"a":4312,"z":4376,"y":6.6,"v":7.35,"b":"0.5387"},{"a":4532,"z":4582,"y":6.6,"v":7.35,"b":"0.5387"},
{"a":115,"z":135,"y":6.85,"v":7.15,"b":"0.6465"},{"a":405,"z":449,"y":6.75,"v":7.2,"b":"0.6465"},{"a":683,"z":725,"y":6.75,"v":7.2,"b":"0.6465"},{"a":1085,"z":1205,"y":6.75,"v":7.2,"b":"0.6465"},{"a":1240,"z":1345,"y":6.75,"v":7.2,"b":"0.6465"},{"a":1460,"z":1528,"y":6.75,"v":7.2,"b":"0.6465"},{"a":1985,"z":2085,"y":6.75,"v":7.2,"b":"0.6465"},{"a":2260,"z":2385,"y":6.75,"v":7.2,"b":"0.6465"},{"a":2580,"z":2668,"y":6.75,"v":7.2,"b":"0.6465"},{"a":2805,"z":2921,"y":6.75,"v":7.2,"b":"0.6465"},{"a":3040,"z":3068,"y":6.75,"v":7.2,"b":"0.6465"},{"a":3605,"z":3681,"y":6.75,"v":7.2,"b":"0.6465"},{"a":3790,"z":3890,"y":6.75,"v":7.2,"b":"0.6465"},{"a":4042,"z":4072,"y":6.75,"v":7.2,"b":"0.6465"},{"a":4330,"z":4358,"y":6.75,"v":7.2,"b":"0.6465"},{"a":4545,"z":4569,"y":6.75,"v":7.2,"b":"0.6465"},
{"a":1115,"z":1170,"y":6.9,"v":7.1,"b":"0.7542"},{"a":1255,"z":1310,"y":6.9,"v":7.1,"b":"0.7542"},{"a":1485,"z":1505,"y":6.95,"v":7.05,"b":"0.7542"},{"a":2005,"z":2065,"y":6.9,"v":7.1,"b":"0.7542"},{"a":2605,"z":2645,"y":6.9,"v":7.1,"b":"0.7542"},{"a":2830,"z":2895,"y":6.88,"v":7.12,"b":"0.7542"},{"a":3625,"z":3661,"y":6.9,"v":7.1,"b":"0.7542"},{"a":3825,"z":3870,"y":6.9,"v":7.1,"b":"0.7542"}],
"legend":[{"lo":-0.1045,"hi":0,"b":"none"},{"lo":0,"hi":0.1078,"b":"0.000"},{"lo":0.1078,"hi":0.2155,"b":"0.1078"},{"lo":0.2155,"hi":0.3232,"b":"0.2155"},{"lo":0.3232,"hi":0.431,"b":"0.3232"},{"lo":0.431,"hi":0.5387,"b":"0.4310"},{"lo":0.5387,"hi":0.6465,"b":"0.5387"},{"lo":0.6465,"hi":0.7542,"b":"0.6465"},{"lo":0.7542,"hi":0.862,"b":"0.7542"}]
},
"bounds":"flush","spacing":1775,
"hconcat":[
{"bounds":"flush","spacing":59,"vconcat":[
 {"width":1,"height":1,"data":{"values":[{"s":1}]},"mark":{"type":"rect","opacity":0}},
 {"width":1286,"height":940,"layer":[
  {"data":{"name":"sig"},"mark":{"type":"area","interpolate":"step","color":"#0000f5","stroke":"#0000f5","strokeWidth":1.5},
   "encoding":{"x":{"field":"x","type":"quantitative","scale":{"domain":[-52600,2500000],"nice":false,"zero":false},
     "axis":{"title":"Point","titleFontSize":92,"titleAlign":"center","titleBaseline":"alphabetic","titleX":1210,"titleY":170,"values":[0,250000,500000,750000,1000000,1250000,1500000,1750000,2000000,2250000,2500000],"labelFontSize":62,"labelBaseline":"top","labelPadding":{"condition":{"test":"datum.value==0","value":9},"value":23},"tickSize":{"condition":{"test":"datum.value%500000==0","value":19},"value":11},"tickWidth":3,"domainWidth":3,"labelExpr":"datum.value==0?'0.0':datum.value%500000!=0?'':format(datum.value/(datum.value>=1000000?1000000:100000),'.1f')+'x10'+(datum.value>=1000000?'⁶':'⁵')"}},
    "y":{"field":"hi","type":"quantitative","scale":{"domain":[-2000,2000],"nice":false,"zero":false},
     "axis":{"title":"Amplitude","titleFontSize":94,"titleAlign":"center","titleBaseline":"alphabetic","titleX":-259,"titleY":476,"values":[-2000,-1750,-1500,-1250,-1000,-750,-500,-250,0,250,500,750,1000,1250,1500,1750,2000],"labelFontSize":62,"labelPadding":14,"tickSize":{"condition":{"test":"datum.value%500==0","value":19},"value":10},"tickWidth":3,"domainWidth":3,"labelExpr":"datum.value==0?'0.0':datum.value%500!=0?'':(datum.value<0?'-':'')+format(abs(datum.value)/(abs(datum.value)>=1000?1000:100),'.1f')+'x10'+(abs(datum.value)>=1000?'³':'²')"}},
    "y2":{"field":"lo"}}},
  {"data":{"values":[{"x":957280,"y":-3298,"t":"("},{"x":1082250,"y":-3298,"t":")"}]},"mark":{"type":"text","fontSize":82,"font":"Liberation Serif","color":"#000","baseline":"alphabetic","align":"center"},
   "encoding":{"x":{"field":"x","type":"quantitative","scale":{"domain":[-52600,2500000],"nice":false,"zero":false}},"y":{"field":"y","type":"quantitative","scale":{"domain":[-2000,2000],"nice":false,"zero":false}},"text":{"field":"t"}}},
  {"data":{"values":[{"x":1018800,"y":-3298,"t":"c"}]},"mark":{"type":"text","fontSize":82,"fontWeight":"bold","font":"Liberation Serif","color":"#000","baseline":"alphabetic","align":"center"},
   "encoding":{"x":{"field":"x","type":"quantitative","scale":{"domain":[-52600,2500000],"nice":false,"zero":false}},"y":{"field":"y","type":"quantitative","scale":{"domain":[-2000,2000],"nice":false,"zero":false}},"text":{"field":"t"}}}
 ]}]},
{"bounds":"flush","spacing":55,"hconcat":[
 {"width":1031,"height":1009,"view":{"stroke":"#222","strokeWidth":2},"layer":[
  {"data":{"name":"cells"},"mark":{"type":"rect"},
   "encoding":{"x":{"field":"a","type":"quantitative","scale":{"domain":[1,4680],"nice":false,"zero":false},
     "axis":{"zindex":1,"title":"Signal segment","titleFontSize":93,"titleAlign":"center","titleBaseline":"alphabetic","titleX":745,"titleY":211,"values":[500,1000,1500,2000,2500,3000,3500,4000,4500],"labelFontSize":62,"labelBaseline":"top","labelPadding":8,"tickSize":{"condition":{"test":"datum.value%1000==0","value":21},"value":11},"tickWidth":3,"domainWidth":3,"labelExpr":"datum.value%1000==0?''+datum.value:''"}},
    "x2":{"field":"z"},
    "y":{"field":"y","type":"quantitative","scale":{"domain":[1,16],"nice":false,"zero":false},
     "axis":{"zindex":1,"title":"WCER Feature","titleFontSize":100,"titleAlign":"center","titleBaseline":"alphabetic","titleX":-138,"titleY":517,"values":[1,2,3,4,5,6,7,8,9,10,11,12,13,14,15,16],"labelFontSize":60,"labelPadding":12,"tickSize":{"condition":{"test":"datum.value%2==0","value":21},"value":10},"tickWidth":3,"domainWidth":4,"labelExpr":"datum.value%2==0?''+datum.value:''"}},
    "y2":{"field":"v"},
    "color":{"field":"b","type":"nominal","scale":{"domain":["none","0.000","0.1078","0.2155","0.3232","0.4310","0.5387","0.6465","0.7542"],"range":["#808080","#0000ff","#0080ff","#00ffff","#00ff80","#00ff00","#ffff00","#ff8000","#ff0000"]},"legend":null}}},
  {"data":{"name":"spikes"},"mark":{"type":"area"},
   "encoding":{"x":{"field":"x","type":"quantitative","scale":{"domain":[1,4680],"nice":false,"zero":false}},"y":{"field":"y","type":"quantitative","scale":{"domain":[1,16],"nice":false,"zero":false}},"y2":{"field":"v"},"detail":{"field":"g"},
    "color":{"field":"b","type":"nominal","scale":{"domain":["none","0.000","0.1078","0.2155","0.3232","0.4310","0.5387","0.6465","0.7542"],"range":["#808080","#0000ff","#0080ff","#00ffff","#00ff80","#00ff00","#ffff00","#ff8000","#ff0000"]},"legend":null}}},
  {"data":{"name":"mid"},"mark":{"type":"area","color":"#0080ff"},"encoding":{"x":{"field":"x","type":"quantitative","scale":{"domain":[1,4680],"nice":false,"zero":false}},"y":{"field":"At","type":"quantitative","scale":{"domain":[1,16],"nice":false,"zero":false}},"y2":{"field":"Ab"}}},
  {"data":{"name":"mid"},"mark":{"type":"area","color":"#00ffff"},"encoding":{"x":{"field":"x","type":"quantitative","scale":{"domain":[1,4680],"nice":false,"zero":false}},"y":{"field":"Bt","type":"quantitative","scale":{"domain":[1,16],"nice":false,"zero":false}},"y2":{"field":"Bb"}}},
  {"data":{"name":"mid"},"mark":{"type":"area","color":"#00ff80"},"encoding":{"x":{"field":"x","type":"quantitative","scale":{"domain":[1,4680],"nice":false,"zero":false}},"y":{"field":"Ct","type":"quantitative","scale":{"domain":[1,16],"nice":false,"zero":false}},"y2":{"field":"Cb"}}},
  {"data":{"name":"mid"},"mark":{"type":"area","color":"#00ff00"},"encoding":{"x":{"field":"x","type":"quantitative","scale":{"domain":[1,4680],"nice":false,"zero":false}},"y":{"field":"Dt","type":"quantitative","scale":{"domain":[1,16],"nice":false,"zero":false}},"y2":{"field":"Db"}}},
  {"data":{"name":"blobs"},"mark":{"type":"rect","cornerRadius":14},
   "encoding":{"x":{"field":"a","type":"quantitative","scale":{"domain":[1,4680],"nice":false,"zero":false}},"x2":{"field":"z"},"y":{"field":"y","type":"quantitative","scale":{"domain":[1,16],"nice":false,"zero":false}},"y2":{"field":"v"},
    "color":{"field":"b","type":"nominal","scale":{"domain":["none","0.000","0.1078","0.2155","0.3232","0.4310","0.5387","0.6465","0.7542"],"range":["#808080","#0000ff","#0080ff","#00ffff","#00ff80","#00ff00","#ffff00","#ff8000","#ff0000"]},"legend":null}}},
  {"data":{"values":[{"x":2330,"y":-3.98,"t":"("},{"x":2684,"y":-3.98,"t":")"}]},"mark":{"type":"text","fontSize":86,"font":"Liberation Serif","color":"#000","baseline":"alphabetic","align":"center"},
   "encoding":{"x":{"field":"x","type":"quantitative","scale":{"domain":[1,4680],"nice":false,"zero":false}},"y":{"field":"y","type":"quantitative","scale":{"domain":[1,16],"nice":false,"zero":false}},"text":{"field":"t"}}},
  {"data":{"values":[{"x":2507,"y":-3.98,"t":"d"}]},"mark":{"type":"text","fontSize":86,"fontWeight":"bold","font":"Liberation Serif","color":"#000","baseline":"alphabetic","align":"center"},
   "encoding":{"x":{"field":"x","type":"quantitative","scale":{"domain":[1,4680],"nice":false,"zero":false}},"y":{"field":"y","type":"quantitative","scale":{"domain":[1,16],"nice":false,"zero":false}},"text":{"field":"t"}}}
 ]},
 {"bounds":"flush","spacing":59,"vconcat":[
  {"width":1,"height":1,"data":{"values":[{"s":1}]},"mark":{"type":"rect","opacity":0}},
  {"width":68,"height":862,"data":{"name":"legend"},"mark":{"type":"rect"},
   "encoding":{"y":{"field":"lo","type":"quantitative","scale":{"domain":[0.862,-0.1045],"nice":false,"zero":false},
     "axis":{"orient":"right","title":null,"values":[0,0.1078,0.2155,0.3232,0.431,0.5387,0.6465,0.7542,0.862],"ticks":false,"domain":false,"labelFontSize":50,"labelPadding":25,"labelColor":"#222","labelExpr":"datum.value==0?'0.000':format(datum.value,'.4f')"}},
    "y2":{"field":"hi"},
    "color":{"field":"b","type":"nominal","scale":{"domain":["none","0.000","0.1078","0.2155","0.3232","0.4310","0.5387","0.6465","0.7542"],"range":["#808080","#0000ff","#0080ff","#00ffff","#00ff80","#00ff00","#ffff00","#ff8000","#ff0000"]},"legend":null}}}
 ]}
]}
]}
